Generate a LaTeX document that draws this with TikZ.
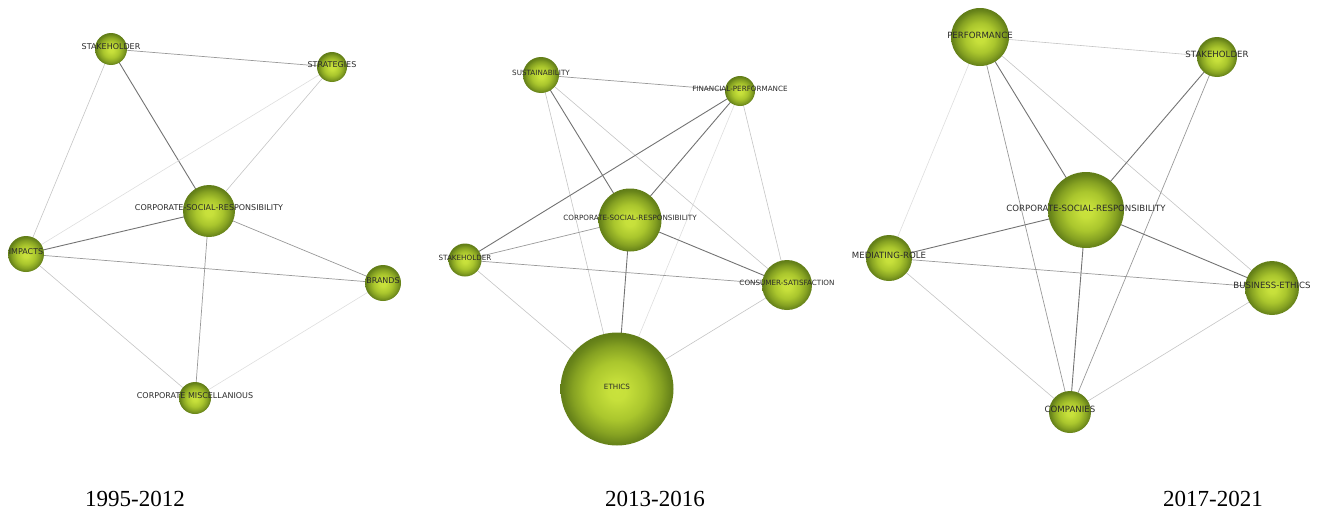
\documentclass[tikz,border=0pt]{standalone}
\usepackage{fontspec}
\setmainfont{Liberation Serif}
\newfontfamily\lblfont{DejaVu Sans}
\definecolor{ballin}{HTML}{C9E23C}
\definecolor{ballmid}{HTML}{AAC62D}
\definecolor{balldk}{HTML}{86A222}
\definecolor{ballout}{HTML}{627E18}
\definecolor{lbl}{HTML}{2A2A2A}
\pgfdeclareradialshading{nodeball}{\pgfpoint{0bp}{-1bp}}{color(0bp)=(ballin); color(4bp)=(ballin!92!ballmid); color(13bp)=(ballmid); color(19.5bp)=(balldk); color(23.5bp)=(ballout!80!balldk); color(25bp)=(ballout); color(50bp)=(ballout)}
\tikzset{
  kw/.style={circle, shading=nodeball, inner sep=0pt, minimum size=#1},
  lab/.style={text=lbl, inner sep=0pt, font=\lblfont\fontsize{8}{8}\selectfont},
  labB/.style={text=lbl, inner sep=0pt, font=\lblfont\fontsize{7.2}{7.2}\selectfont},
  labC/.style={text=lbl, inner sep=0pt, font=\lblfont\fontsize{8.6}{8.6}\selectfont},
  ed1/.style={draw=black!55, line width=0.9pt},
  ed2/.style={draw=black!40, line width=0.7pt},
  ed3/.style={draw=black!23, line width=0.6pt},
  ed4/.style={draw=black!13, line width=0.6pt},
  year/.style={font=\fontsize{23}{23}\selectfont, inner sep=0pt}
}
\begin{document}
\begin{tikzpicture}[x=1pt,y=-1pt]
\useasboundingbox (0,0) rectangle (1319,514);
% ---------- Panel 1 ----------
\coordinate (a1) at (111,49);
\coordinate (a2) at (332,67);
\coordinate (a3) at (209,211);
\coordinate (a4) at (26,254);
\coordinate (a5) at (383,283);
\coordinate (a6) at (195,398);
\draw[ed2] (a1) -- (a2);
\draw[ed1] (a1) -- (a3);
\draw[ed3] (a1) -- (a4);
\draw[ed4] (a2) -- (a4);
\draw[ed3] (a2) -- (a3);
\draw[ed1] (a3) -- (a4);
\draw[ed2] (a3) -- (a5);
\draw[ed2] (a3) -- (a6);
\draw[ed2] (a4) -- (a5);
\draw[ed3] (a4) -- (a6);
\draw[ed4] (a5) -- (a6);
\node[kw=32pt] (n1) at (a1) {};
\node[kw=30pt] (n2) at (a2) {};
\node[kw=52pt] (n3) at (a3) {};
\node[kw=36pt] (n4) at (a4) {};
\node[kw=36pt] (n5) at (a5) {};
\node[kw=32pt] (n6) at (a6) {};
\node[lab] (t1) at (111,46.5) {STAKEHOLDER};
\node[lab] (t2) at (332,64.5) {STRATEGIES};
\node[lab] (t3) at (209,208) {CORPORATE-SOCIAL-RESPONSIBILITY};
\node[lab] (t4) at (26,252) {IMPACTS};
\node[lab] (t5) at (383,280.5) {BRANDS};
\node[lab] (t6) at (195,396) {CORPORATE MISCELLANIOUS};
% ---------- Panel 2 ----------
\coordinate (b1) at (541,75);
\coordinate (b2) at (740,91);
\coordinate (b3) at (630,220);
\coordinate (b4) at (465,260);
\coordinate (b5) at (787,285);
\coordinate (b6) at (617,389);
\draw[ed2] (b1) -- (b2);
\draw[ed1] (b1) -- (b3);
\draw[ed3] (b1) -- (b6);
\draw[ed3] (b1) -- (b5);
\draw[ed1] (b2) -- (b4);
\draw[ed1] (b2) -- (b3);
\draw[ed4] (b2) -- (b6);
\draw[ed3] (b2) -- (b5);
\draw[ed2] (b3) -- (b4);
\draw[ed1] (b3) -- (b5);
\draw[ed1] (b3) -- (b6);
\draw[ed2] (b4) -- (b5);
\draw[ed3] (b4) -- (b6);
\draw[ed3] (b5) -- (b6);
\node[kw=36pt] (m1) at (b1) {};
\node[kw=30pt] (m2) at (b2) {};
\node[kw=63pt] (m3) at (b3) {};
\node[kw=33pt] (m4) at (b4) {};
\node[kw=50pt] (m5) at (b5) {};
\node[kw=113pt] (m6) at (b6) {};
\node[labB] (s1) at (541,72.5) {SUSTAINABILITY};
\node[labB] (s2) at (740,88.5) {FINANCIAL-PERFORMANCE};
\node[labB] (s3) at (630,218) {CORPORATE-SOCIAL-RESPONSIBILITY};
\node[labB] (s4) at (465,257.5) {STAKEHOLDER};
\node[labB] (s5) at (787,283) {CONSUMER-SATISFACTION};
\node[labB] (s6) at (617,387) {ETHICS};
% ---------- Panel 3 ----------
\coordinate (c1) at (980,37);
\coordinate (c2) at (1217,57);
\coordinate (c3) at (1086,210);
\coordinate (c4) at (889,258);
\coordinate (c5) at (1272,288);
\coordinate (c6) at (1070,412);
\draw[ed3] (c1) -- (c2);
\draw[ed1] (c1) -- (c3);
\draw[ed4] (c1) -- (c4);
\draw[ed2] (c1) -- (c6);
\draw[ed3] (c1) -- (c5);
\draw[ed1] (c2) -- (c3);
\draw[ed2] (c2) -- (c6);
\draw[ed1] (c3) -- (c4);
\draw[ed1] (c3) -- (c5);
\draw[ed1] (c3) -- (c6);
\draw[ed2] (c4) -- (c5);
\draw[ed3] (c4) -- (c6);
\draw[ed3] (c5) -- (c6);
\node[kw=58pt] (k1) at (c1) {};
\node[kw=40pt] (k2) at (c2) {};
\node[kw=76pt] (k3) at (c3) {};
\node[kw=46pt] (k4) at (c4) {};
\node[kw=54pt] (k5) at (c5) {};
\node[kw=42pt] (k6) at (c6) {};
\node[labC] (u1) at (980,35) {PERFORMANCE};
\node[labC] (u2) at (1217,54) {STAKEHOLDER};
\node[labC] (u3) at (1086,208) {CORPORATE-SOCIAL-RESPONSIBILITY};
\node[labC] (u4) at (889,255) {MEDIATING-ROLE};
\node[labC] (u5) at (1272,285) {BUSINESS-ETHICS};
\node[labC] (u6) at (1070,409) {COMPANIES};
% ---------- Years ----------
\node[year] (y1) at (135,499) {1995-2012};
\node[year] (y2) at (655,499) {2013-2016};
\node[year] (y3) at (1213,499) {2017-2021};
\end{tikzpicture}
\end{document}
